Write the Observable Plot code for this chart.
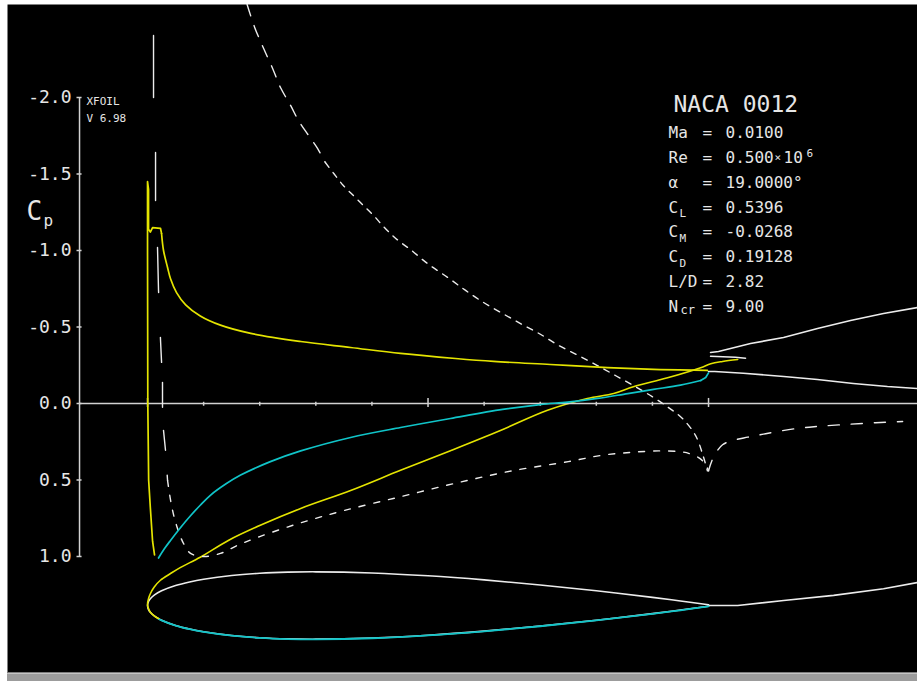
<!DOCTYPE html>
<html><head><meta charset="utf-8">
<script src="https://cdn.jsdelivr.net/npm/d3@7"></script>
<script src="https://cdn.jsdelivr.net/npm/@observablehq/plot@0.6"></script>
<style>
html,body{margin:0;padding:0;background:#fff;overflow:hidden;}
#chart svg{display:block;}
#bar{margin-left:7px;height:9px;background:linear-gradient(#7c7c7c 0 1px,#c4c4c4 1px 2px,#9c9c9c 2px);}
g[aria-label="info"] text{letter-spacing:2.2px;}
g[aria-label="ticklabel"] text{letter-spacing:0.5px;}
g[aria-label="badge"] text{letter-spacing:1.3px;}
</style></head><body>
<div id="chart"></div>
<div id="bar"></div>
<script>
// ---------- data (x = x/c, Cp) ----------
const cpTicks = [-2.0, -1.5, -1.0, -0.5, 0.0, 0.5, 1.0];
const cpTickLabels = ["-2.0", "-1.5", "-1.0", "-0.5", "0.0", "0.5", "1.0"];
const chordTicks = [0, 0.1, 0.2, 0.3, 0.4, 0.5, 0.6, 0.7, 0.8, 0.9, 1.0];
const chordMajorTicks = [0, 0.5, 1.0];
const cpAxisAt = -0.1212;

// viscous Cp, upper surface (yellow): nose part and aft part
const cpUpperViscousNose = [[0.0125,0.99],[0.009,0.90],[0.005,0.68],[0.002,0.50],[0.0005,0.0],[0.0,-1.0],[0.0,-1.45],
  [0.0018,-1.40],[0.0018,-1.14],[0.005,-1.12],[0.009,-1.15],[0.0232,-1.144],[0.025,-1.111]];
const cpUpperViscous = [[0.025,-1.111],[0.0285,-1.0],[0.0357,-0.889],[0.041,-0.815],[0.0517,-0.725],[0.068,-0.645],
  [0.094,-0.572],[0.13,-0.512],[0.184,-0.458],[0.273,-0.405],[0.362,-0.366],[0.451,-0.327],[0.549,-0.294],
  [0.617,-0.275],[0.718,-0.255],[0.82,-0.235],[0.914,-0.222],[0.998,-0.216]];
// viscous Cp, lower surface (cyan)
const cpLowerViscous = [[0.0196,1.01],[0.03,0.95],[0.041,0.895],[0.059,0.81],[0.077,0.732],[0.094,0.665],
  [0.112,0.60],[0.14,0.525],[0.166,0.468],[0.219,0.38],[0.273,0.31],[0.362,0.222],[0.451,0.157],[0.54,0.098],
  [0.633,0.039],[0.70,0.007],[0.749,-0.009],[0.802,-0.033],[0.856,-0.065],[0.902,-0.092],[0.95,-0.12],
  [0.986,-0.15]];
const cpLowerViscousTE = [[0.986,-0.15],[0.995,-0.17],[1.0,-0.20]];
// viscous Cp in the wake (white)
const cpWakeViscous = [[1.0,-0.209],[1.011,-0.209],[1.062,-0.198],[1.134,-0.176],[1.194,-0.157],[1.258,-0.131],
  [1.319,-0.111],[1.3725,-0.098]];
// inviscid Cp (dashed white)
const cpUpperInviscidTop = [[0.1775,-2.608],[0.191,-2.458],[0.207,-2.320],[0.223,-2.190],[0.237,-2.065],
  [0.255,-1.948],[0.269,-1.850],[0.287,-1.752],[0.303,-1.667],[0.317,-1.575]];
const cpUpperInviscid = [[0.317,-1.575],[0.332,-1.503],[0.349,-1.425],[0.367,-1.359],[0.385,-1.294],
  [0.403,-1.229],[0.419,-1.163],[0.433,-1.111],[0.447,-1.065],[0.469,-1.005],[0.499,-0.915],[0.535,-0.824],
  [0.567,-0.739],[0.599,-0.660],[0.633,-0.588],[0.668,-0.516],[0.701,-0.451],[0.733,-0.379],[0.768,-0.314],
  [0.802,-0.248],[0.834,-0.183],[0.866,-0.118],[0.902,-0.039],[0.930,0.03],[0.954,0.10],[0.977,0.21],
  [0.991,0.35],[0.998,0.44]];
const cpNoseInviscid = [[0.0107,-2.405],[0.0107,-2.0],[0.0143,-1.641],[0.0143,-1.327],[0.0178,-1.020],
  [0.0196,-0.739],[0.0232,-0.412],[0.0267,-0.137],[0.0267,0.026],[0.0285,0.176],[0.0321,0.307],[0.0357,0.503]];
const cpLowerInviscid = [[0.0357,0.503],[0.0428,0.667],[0.0517,0.797],[0.0642,0.915],[0.0767,0.980],[0.0998,1.0],
  [0.130,0.980],[0.160,0.928],[0.2,0.87],[0.273,0.78],[0.35,0.70],[0.45,0.61],[0.55,0.52],[0.65,0.44],
  [0.75,0.38],[0.807,0.34],[0.86,0.32],[0.911,0.31],[0.95,0.315],[0.968,0.33],[0.985,0.36],[0.995,0.40],[1.0,0.44]];
const cpWakeInviscid = [[1.0,0.44],[1.009,0.35],[1.025,0.27],[1.045,0.24],[1.070,0.22],[1.098,0.20],[1.128,0.18],
  [1.164,0.16],[1.194,0.15],[1.232,0.14],[1.276,0.13],[1.330,0.12],[1.346,0.118]];

// airfoil geometry (x/c, y/c) and boundary-layer displacement lines
const airfoilX = [0,0.002,0.005,0.0125,0.025,0.05,0.075,0.1,0.15,0.2,0.25,0.3,0.4,0.5,0.6,0.7,0.8,0.9,0.95,1.0];
const airfoilHalfT = [0,0.0078,0.0122,0.01894,0.02615,0.03555,0.0420,0.04683,0.05345,0.05737,0.05941,0.06002,
  0.05803,0.05294,0.04563,0.03664,0.02623,0.01448,0.00807,0.00126];
const deltaUpper = [[0.0196,-0.0232],[0.0125,-0.0189],[0.005,-0.012],[0.0015,-0.005],[0,0.002],[0.002,0.013],
  [0.005,0.021],[0.012,0.033],[0.023,0.045],[0.041,0.057],[0.059,0.068],[0.094,0.086],[0.144,0.116],[0.201,0.143],
  [0.273,0.173],[0.362,0.205],[0.451,0.241],[0.540,0.276],[0.629,0.312],[0.713,0.348],[0.784,0.369],[0.831,0.378],
  [0.866,0.390],[0.927,0.406],[0.986,0.424],[1.004,0.431],[1.025,0.435],[1.052,0.4385]];
const deltaLower = [[0.0196,-0.0240],[0.025,-0.0266],[0.05,-0.0359],[0.075,-0.0423],[0.1,-0.0471],[0.15,-0.0538],
  [0.2,-0.0578],[0.25,-0.0598],[0.3,-0.0604],[0.4,-0.0584],[0.5,-0.0533],[0.6,-0.0460],[0.7,-0.0370],[0.8,-0.0266],
  [0.9,-0.0149],[0.95,-0.0085],[1.0,-0.0014]];
const wakeUpper = [[1.0036,0.451],[1.0178,0.4528],[1.0749,0.467],[1.1337,0.4777],[1.1943,0.4938],[1.2531,0.508],
  [1.3119,0.5205],[1.3725,0.5312]];
const wakeUpperStub = [[1.0036,0.4444],[1.048,0.4426],[1.066,0.4408]];
const wakeLower = [[1.0,0.0],[1.052,0.0],[1.134,0.009],[1.223,0.018],[1.312,0.030],[1.3725,0.041]];

// text
const badgeLines = ["XFOIL", "V 6.98"];
const infoTitle = "NACA 0012";
const infoLabels = ["Ma", "Re", "α", "C", "C", "C", "L/D", "N"];
const infoSubs = ["", "", "", "L", "M", "D", "", "cr"];
const infoValues = ["0.0100", "0.500", "19.0000°", "0.5396", "-0.0268", "0.19128", "2.82", "9.00"];
const reExponent = ["×", "10", "6"];

// ---------- layout ----------
const W = 917, H = 672, mL = 7, mT = 4;
const xDomain = [-0.2496, 1.3725];
const yDomain = [1.7582, -2.6078];
const pxPerChord = (W - mL) / (xDomain[1] - xDomain[0]);
const pxPerCp = (H - mT) / (yDomain[0] - yDomain[1]);
const k = pxPerChord / pxPerCp;          // equal-aspect airfoil drawing
const chordLineCp = 1.3203;              // airfoil chord line drawn below the Cp plot
const geo = d => chordLineCp - d[1] * k;

const mono = "DejaVu Sans Mono, Liberation Mono, monospace";
const TXT = "#e6e6e6", WHITE = "#ececec", YEL = "#e4e400", CYA = "#10c4c8";

const cpLine = (data, o) => Plot.line(data, {x: d => d[0], y: d => d[1], clip: true, ...o});
const geoLine = (data, o) => Plot.line(data, {x: d => d[0], y: geo, clip: true, ...o});
const at = (text, px, py, o) => Plot.text([text], {text: d => d, frameAnchor: "top-left", dx: px - mL, dy: py - mT,
  textAnchor: "start", lineAnchor: "middle", fill: TXT, fontFamily: mono, ...o});

const upperSurf = airfoilX.map((x, i) => [x, airfoilHalfT[i]]);
const lowerSurf = airfoilX.map((x, i) => [x, -airfoilHalfT[i]]);
const airfoil = [...upperSurf.slice().reverse(), ...lowerSurf.slice(1)];

const info = [];
infoLabels.forEach((t, i) => {
  const y = 132.5 + i * 24.8;
  info.push(at(t, 668, y, {fontSize: 16, ariaLabel: "info"}));
  if (infoSubs[i]) info.push(at(infoSubs[i], infoSubs[i] === "cr" ? 680 : 679, y + (infoSubs[i] === "cr" ? 4 : 6.5), {fontSize: infoSubs[i] === "cr" ? 12 : 11}));
  info.push(at("=", 702, y, {fontSize: 16}));
  info.push(at(infoValues[i], 725, y, {fontSize: 16, ariaLabel: "info"}));
});
const reY = 132.5 + 24.8;
info.push(at(reExponent[0], 774, reY, {fontSize: 11}));
info.push(at(reExponent[1], 783, reY, {fontSize: 16, ariaLabel: "info"}));
info.push(at(reExponent[2], 806, reY - 4, {fontSize: 11}));

const chart = Plot.plot({
  width: W, height: H,
  marginLeft: mL, marginRight: 0, marginTop: mT, marginBottom: 0,
  x: {domain: xDomain, axis: null},
  y: {domain: yDomain, axis: null},
  style: {background: "#fff"},
  marks: [
    Plot.frame({fill: "#000", stroke: "none"}),
    // airfoil and displacement surfaces
    geoLine(airfoil, {stroke: WHITE, strokeWidth: 1.6, curve: "catmull-rom"}),
    geoLine(wakeLower, {stroke: WHITE, strokeWidth: 1.6}),
    geoLine(wakeUpper, {stroke: WHITE, strokeWidth: 1.6}),
    geoLine(wakeUpperStub, {stroke: WHITE, strokeWidth: 1.5}),
    geoLine(deltaLower, {stroke: CYA, strokeWidth: 1.8, curve: "catmull-rom"}),
    geoLine(deltaUpper, {stroke: YEL, strokeWidth: 1.6, curve: "catmull-rom"}),
    // axes
    Plot.ruleY([0], {x1: cpAxisAt, x2: xDomain[1], stroke: "#d2d2d2", strokeWidth: 1.5}),
    Plot.ruleX(chordTicks, {x: d => d, y1: d => chordMajorTicks.includes(d) ? -0.033 : -0.008, y2: d => chordMajorTicks.includes(d) ? 0.026 : 0.018, stroke: "#d2d2d2", strokeWidth: 1.5}),
    Plot.ruleX([cpAxisAt], {y1: cpTicks[0], y2: cpTicks[cpTicks.length - 1], stroke: "#d2d2d2", strokeWidth: 1.5}),
    Plot.ruleY(cpTicks, {y: d => d, x1: cpAxisAt - 0.0045, x2: cpAxisAt + 0.0045, stroke: "#d2d2d2", strokeWidth: 1.5}),
    Plot.text(cpTicks, {x: cpAxisAt, y: d => d, text: (d, i) => cpTickLabels[i], dx: -8, textAnchor: "end", lineAnchor: "middle", fill: TXT, fontSize: 18, fontFamily: mono, ariaLabel: "ticklabel"}),
    // inviscid Cp (dashed)
    cpLine(cpUpperInviscidTop, {stroke: WHITE, strokeWidth: 1.4, strokeDasharray: "12,10", curve: "catmull-rom"}),
    cpLine(cpUpperInviscid, {stroke: WHITE, strokeWidth: 1.4, strokeDasharray: "6,6.5", curve: "catmull-rom"}),
    cpLine(cpNoseInviscid, {stroke: WHITE, strokeWidth: 1.4, strokeDasharray: "62,55,48,47,45,45,25,20,25,23,20,25,300"}),
    cpLine(cpLowerInviscid, {stroke: WHITE, strokeWidth: 1.4, strokeDasharray: "6,9", curve: "catmull-rom"}),
    cpLine(cpWakeInviscid, {stroke: WHITE, strokeWidth: 1.4, strokeDasharray: "11,12", curve: "catmull-rom"}),
    // viscous Cp
    cpLine(cpWakeViscous, {stroke: WHITE, strokeWidth: 1.6}),
    cpLine(cpLowerViscous, {stroke: CYA, strokeWidth: 1.7, curve: "catmull-rom"}),
    cpLine(cpLowerViscousTE, {stroke: CYA, strokeWidth: 1.7}),
    cpLine(cpUpperViscousNose, {stroke: YEL, strokeWidth: 1.7}),
    cpLine(cpUpperViscous, {stroke: YEL, strokeWidth: 1.7, curve: "catmull-rom"}),
    // labels
    at("C", 26, 211.5, {fontSize: 26}),
    at("p", 43, 220, {fontSize: 16}),
    at(badgeLines[0], 86, 101, {fontSize: 11, ariaLabel: "badge"}),
    at(badgeLines[1], 86, 117.5, {fontSize: 11, ariaLabel: "badge"}),
    at(infoTitle, 673, 104, {fontSize: 23}),
    ...info
  ]
});
document.getElementById("chart").appendChild(chart);
</script>
</body></html>
